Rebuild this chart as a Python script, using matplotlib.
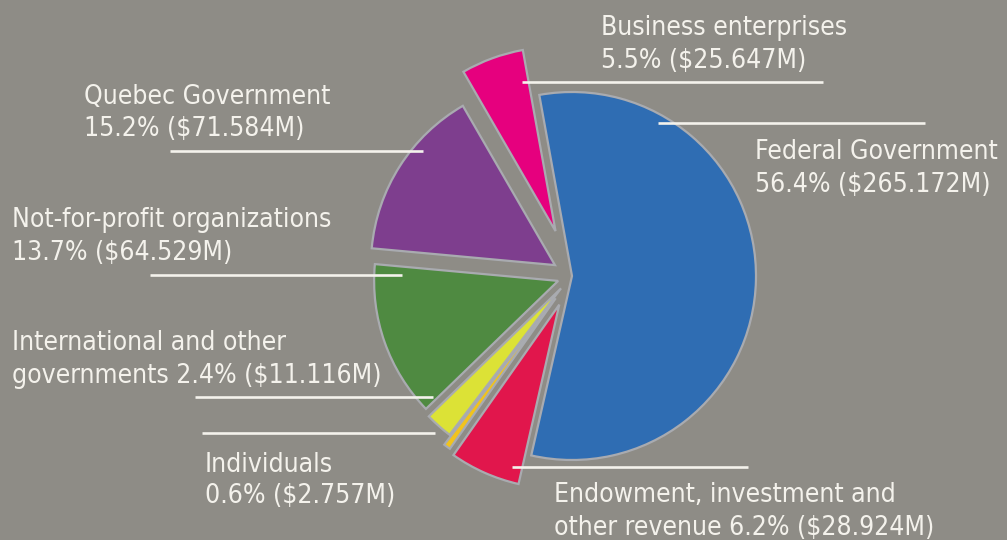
import matplotlib
matplotlib.use("Agg")
import matplotlib.pyplot as plt

# ---- data ----
categories = ["Federal Government", "Business enterprises", "Quebec Government",
              "Not-for-profit organizations", "International and other governments",
              "Individuals", "Endowment, investment and other revenue"]
label_first = ["Federal Government", "Business enterprises", "Quebec Government",
               "Not-for-profit organizations", "International and other",
               "Individuals", "Endowment, investment and"]
label_prefix = ["", "", "", "", "governments ", "", "other revenue "]
percents = [56.4, 5.5, 15.2, 13.7, 2.4, 0.6, 6.2]
amounts_m = [265.172, 25.647, 71.584, 64.529, 11.116, 2.757, 28.924]

# ---- style ----
colors = ["#2f6db3", "#e6007e", "#7e3e8e", "#4f8a41", "#dce236", "#f1c31c", "#e1164c"]
explode_frac = [0.0, 0.26, 0.11, 0.08, 0.09, 0.15, 0.17]
bg = "#8e8c86"
txt_color = "#f4f2ec"

W, H = 1007, 540
fig = plt.figure(figsize=(W / 100, H / 100), dpi=100, facecolor=bg)
ax = fig.add_axes([0, 0, 1, 1])
ax.set_facecolor(bg)

cx, cy, R = 572, H - 276, 184
ax.pie(percents, colors=colors, explode=[e * R for e in explode_frac],
       startangle=-102.8, counterclock=True, center=(cx, cy), radius=R,
       wedgeprops=dict(edgecolor="#a9abb0", linewidth=1.6))
ax.set_xlim(0, W)
ax.set_ylim(0, H)
ax.set_aspect("equal")
ax.axis("off")

# label layout (pixels from top-left): text x, baseline of line 1, baseline of line 2
text_pos = [(755, 159, 192), (601, 35, 68), (84, 104, 136), (12, 227, 260),
            (12, 350, 383), (205, 472, 503), (554, 502, 535)]
lines = [(658, 925, 123), (522, 823, 82), (170, 423, 151), (150, 402, 275),
         (195, 433, 397), (202, 435, 433), (512, 748, 467)]

font = dict(family=["DejaVu Sans"], fontstretch="condensed", fontsize=19,
            color=txt_color)
for i in range(len(categories)):
    tx, y1, y2 = text_pos[i]
    ax.text(tx, H - y1, label_first[i], ha="left", va="baseline", **font)
    second = f"{label_prefix[i]}{percents[i]}% (${amounts_m[i]:.3f}M)"
    ax.text(tx, H - y2, second, ha="left", va="baseline", **font)
    x0, x1, ly = lines[i]
    ax.plot([x0, x1], [H - ly, H - ly], color=txt_color, lw=1.9,
            solid_capstyle="butt", zorder=5)

fig.savefig("out.png", dpi=100, facecolor=bg)
